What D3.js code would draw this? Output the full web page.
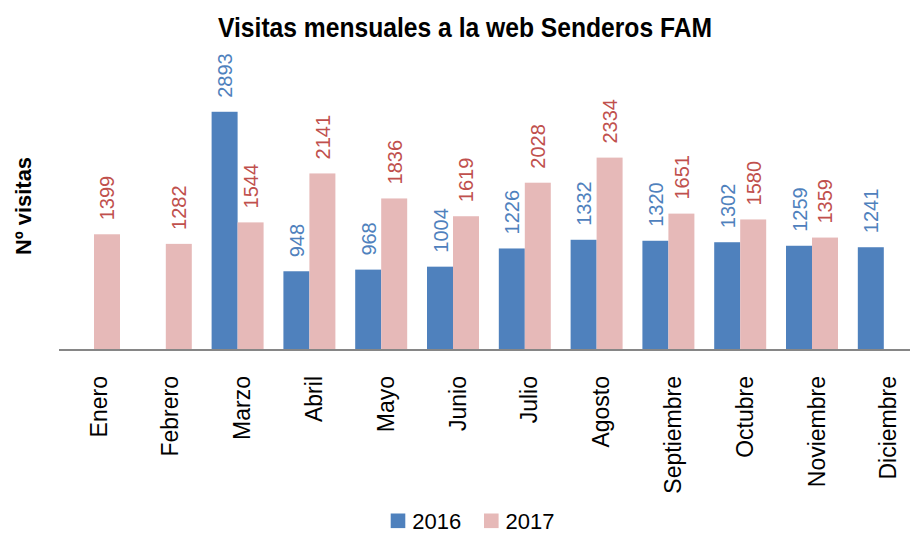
<!DOCTYPE html>
<html><head><meta charset="utf-8">
<script src="https://cdn.jsdelivr.net/npm/d3@7"></script>
<style>body{margin:0;background:#fff}</style>
</head><body>
<svg id="c" width="910" height="533"></svg>
<script>
const months = ["Enero","Febrero","Marzo","Abril","Mayo","Junio","Julio","Agosto","Septiembre","Octubre","Noviembre","Diciembre"];
const seriesNames = ["2016","2017"];
const values2016 = [null,null,2893,948,968,1004,1226,1332,1320,1302,1259,1241];
const values2017 = [1399,1282,1544,2141,1836,1619,2028,2334,1651,1580,1359,null];
const colors = ["#4f81bd","#e6b9b8"];
const labelColors = ["#4f81bd","#c0504d"];

const svg = d3.select("#c");
const x0 = d3.scaleBand().domain(months).range([58.1, 919.7]).paddingInner(0.276).paddingOuter(0.138);
const x1 = d3.scaleBand().domain(seriesNames).range([0, x0.bandwidth()]);
const y = d3.scaleLinear().domain([0, 3500]).range([349, 62]);
const color = d3.scaleOrdinal().domain(seriesNames).range(colors);
const lcolor = d3.scaleOrdinal().domain(seriesNames).range(labelColors);

const data = months.map((m,i)=>({month:m, vals:[{s:"2016",v:values2016[i]},{s:"2017",v:values2017[i]}].filter(d=>d.v!=null)}));

// title
svg.append("text").attr("x",465).attr("y",37).attr("text-anchor","middle")
  .attr("font-family","'Liberation Sans', Arial, sans-serif").attr("font-weight","bold")
  .attr("font-size",27).attr("textLength",494).attr("lengthAdjust","spacingAndGlyphs")
  .text("Visitas mensuales a la web Senderos FAM");

// y label
svg.append("text").attr("transform","translate(31,206) rotate(-90)").attr("text-anchor","middle")
  .attr("font-family","'Liberation Sans', Arial, sans-serif").attr("font-weight","bold")
  .attr("font-size",22).attr("textLength",98).attr("lengthAdjust","spacingAndGlyphs")
  .text("Nº visitas");

const g = svg.selectAll("g.grp").data(data).join("g").attr("class","grp")
  .attr("transform",d=>`translate(${x0(d.month)},0)`);

g.selectAll("rect").data(d=>d.vals).join("rect")
  .attr("x",d=>x1(d.s)).attr("width",x1.bandwidth())
  .attr("y",d=>y(d.v)).attr("height",d=>y(0)-y(d.v))
  .attr("fill",d=>color(d.s));

g.selectAll("text.lbl").data(d=>d.vals).join("text").attr("class","lbl")
  .attr("transform",d=>`translate(${x1(d.s)+x1.bandwidth()/2+7.5},${y(d.v)-14}) rotate(-90)`)
  .attr("text-anchor","start")
  .attr("font-family","'Liberation Sans', Arial, sans-serif").attr("font-size",20)
  .attr("fill",d=>lcolor(d.s)).text(d=>d.v);

// x axis
const xAxis = d3.axisBottom(x0).tickSize(0).tickPadding(0);
const ax = svg.append("g").attr("transform","translate(0,350)").call(xAxis);
ax.select(".domain").attr("d","M59,0H910").attr("stroke","#868686").attr("stroke-width",2);
ax.selectAll(".tick text")
  .attr("font-family","'Liberation Sans', Arial, sans-serif").attr("font-size",23).attr("fill","#000")
  .attr("text-anchor","end").attr("transform","rotate(-90)")
  .attr("x",-26).attr("y",12.5).attr("dy",0);

// legend
const leg = svg.append("g");
const legX = [390.7, 484];
seriesNames.forEach((s,i)=>{
  leg.append("rect").attr("x",legX[i]).attr("y",513.5).attr("width",14.6).attr("height",14.6).attr("fill",color(s));
  leg.append("text").attr("x",legX[i]+21.5).attr("y",528.5).attr("font-family","'Liberation Sans', Arial, sans-serif")
    .attr("font-size",22).attr("fill","#000").text(s);
});
</script>
</body></html>
